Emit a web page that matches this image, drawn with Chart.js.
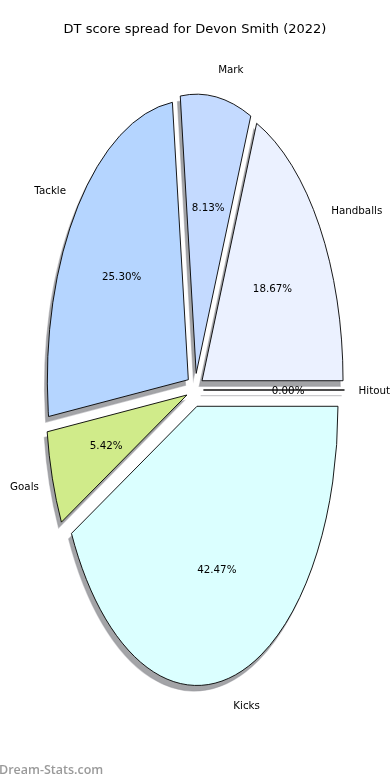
<!DOCTYPE html>
<html>
<head>
<meta charset="utf-8">
<title>DT score spread</title>
<script src="https://cdn.jsdelivr.net/npm/chart.js@4.4.1/dist/chart.umd.min.js"></script>
<style>
  html, body { margin: 0; padding: 0; background: #fff; }
  #wrap { width: 390px; height: 780px; position: relative; }
</style>
</head>
<body>
<div id="wrap"><canvas id="dt-chart"></canvas></div>
<script>
// Chart data
const categories = ['Handballs', 'Mark', 'Tackle', 'Goals', 'Kicks', 'Hitout'];
const shares = [18.67, 8.13, 25.30, 5.42, 42.47, 0.00];
const sliceColors = ['#ebf1ff', '#c4daff', '#b5d5ff', '#d0eb8a', '#dbffff', '#d9d9d9'];
const chartTitle = 'DT score spread for Devon Smith (2022)';
const watermark = 'Dream-Stats.com';

// Look of the stretched, exploded pie
const STRETCH_Y = 1.98;      // pie is drawn as an ellipse, about twice as tall as wide
const EXPLODE = 0.06;        // explode distance, fraction of radius
const SHADOW_DX = -2.8;
const SHADOW_DY = 5.6;
const LABEL_FONT = '10.3px "DejaVu Sans", sans-serif';
const TEXT_NUDGE = 1;        // canvas 'middle' sits a touch higher than matplotlib 'center'

// Function to build a wedge path on the ellipse (canvas angles, drawn counterclockwise on screen)
function wedgePath(ctx, arc, ox, oy) {
    const x0 = arc.x + ox;
    const y0 = arc.y + oy;
    ctx.beginPath();
    ctx.moveTo(x0, y0);
    ctx.ellipse(x0, y0, arc.outerRadius, arc.outerRadius * STRETCH_Y, 0,
        -arc.startAngle, -arc.endAngle, true);
    ctx.closePath();
}

// Offset of an exploded slice
function explodeOffset(arc) {
    const mid = (arc.startAngle + arc.endAngle) / 2;
    return {
        x: EXPLODE * arc.outerRadius * Math.cos(mid),
        y: -EXPLODE * arc.outerRadius * STRETCH_Y * Math.sin(mid)
    };
}

const ellipsePie = {
    id: 'ellipsePie',
    beforeDatasetsDraw(chart) {
        const ctx = chart.ctx;
        const arcs = chart.getDatasetMeta(0).data;
        const total = shares.reduce((a, b) => a + b, 0);

        // Shadows first
        ctx.save();
        arcs.forEach(arc => {
            const off = explodeOffset(arc);
            wedgePath(ctx, arc, off.x + SHADOW_DX, off.y + SHADOW_DY);
            ctx.fillStyle = '#a3a4a7';
            ctx.fill();
            ctx.strokeStyle = 'rgba(150,150,155,0.5)';
            ctx.lineWidth = 1.2;
            ctx.stroke();
        });
        ctx.restore();

        // Slice fills through Chart.js arcs, squashed into the ellipse
        arcs.forEach(arc => {
            const off = explodeOffset(arc);
            ctx.save();
            ctx.translate(arc.x + off.x, arc.y + off.y);
            ctx.scale(1, -STRETCH_Y);
            ctx.translate(-arc.x, -arc.y);
            arc.draw(ctx);
            ctx.restore();
        });

        // Outlines
        ctx.save();
        arcs.forEach(arc => {
            const off = explodeOffset(arc);
            wedgePath(ctx, arc, off.x, off.y);
            ctx.strokeStyle = '#000';
            ctx.lineWidth = 0.9;
            ctx.lineJoin = 'miter';
            ctx.stroke();
        });
        ctx.restore();

        // Category labels and percentages
        ctx.save();
        ctx.font = LABEL_FONT;
        ctx.fillStyle = '#000';
        ctx.textBaseline = 'middle';
        arcs.forEach((arc, i) => {
            const off = explodeOffset(arc);
            const mid = (arc.startAngle + arc.endAngle) / 2;
            const r = arc.outerRadius;
            const cx = arc.x + off.x;
            const cy = arc.y + off.y;

            const lx = cx + 1.1 * r * Math.cos(mid);
            const ly = cy - 1.1 * r * STRETCH_Y * Math.sin(mid);
            ctx.textAlign = (lx - arc.x) > 0 ? 'left' : 'right';
            ctx.fillText(categories[i], lx, ly + TEXT_NUDGE);

            const px = cx + 0.6 * r * Math.cos(mid);
            const py = cy - 0.6 * r * STRETCH_Y * Math.sin(mid);
            ctx.textAlign = 'center';
            ctx.fillText((shares[i] / total * 100).toFixed(2) + '%', px, py + TEXT_NUDGE);
        });
        ctx.restore();

        return false;
    },
    afterDraw(chart) {
        const ctx = chart.ctx;
        ctx.save();
        ctx.font = '600 12.5px "Open Sans", sans-serif';
        ctx.fillStyle = '#9a9a9a';
        ctx.textAlign = 'left';
        ctx.textBaseline = 'middle';
        ctx.fillText(watermark, -1, 770);
        ctx.restore();
    }
};

const ctx = document.getElementById('dt-chart').getContext('2d');
const dtChart = new Chart(ctx, {
    type: 'pie',
    data: {
        labels: categories,
        datasets: [{
            data: shares,
            backgroundColor: sliceColors,
            borderWidth: 0,
            offset: 0
        }]
    },
    options: {
        responsive: true,
        maintainAspectRatio: false,
        animation: false,
        rotation: 90,
        radius: 141,
        layout: {
            padding: { top: 0, bottom: 37.6, left: 0, right: 0 }
        },
        events: [],
        plugins: {
            legend: { display: false },
            tooltip: { enabled: false },
            title: {
                display: true,
                text: chartTitle,
                color: '#000',
                font: { family: '"DejaVu Sans", sans-serif', size: 13, weight: 'normal', lineHeight: 1.2 },
                padding: { top: 22, bottom: 0 }
            }
        }
    },
    plugins: [ellipsePie]
});
</script>
</body>
</html>
